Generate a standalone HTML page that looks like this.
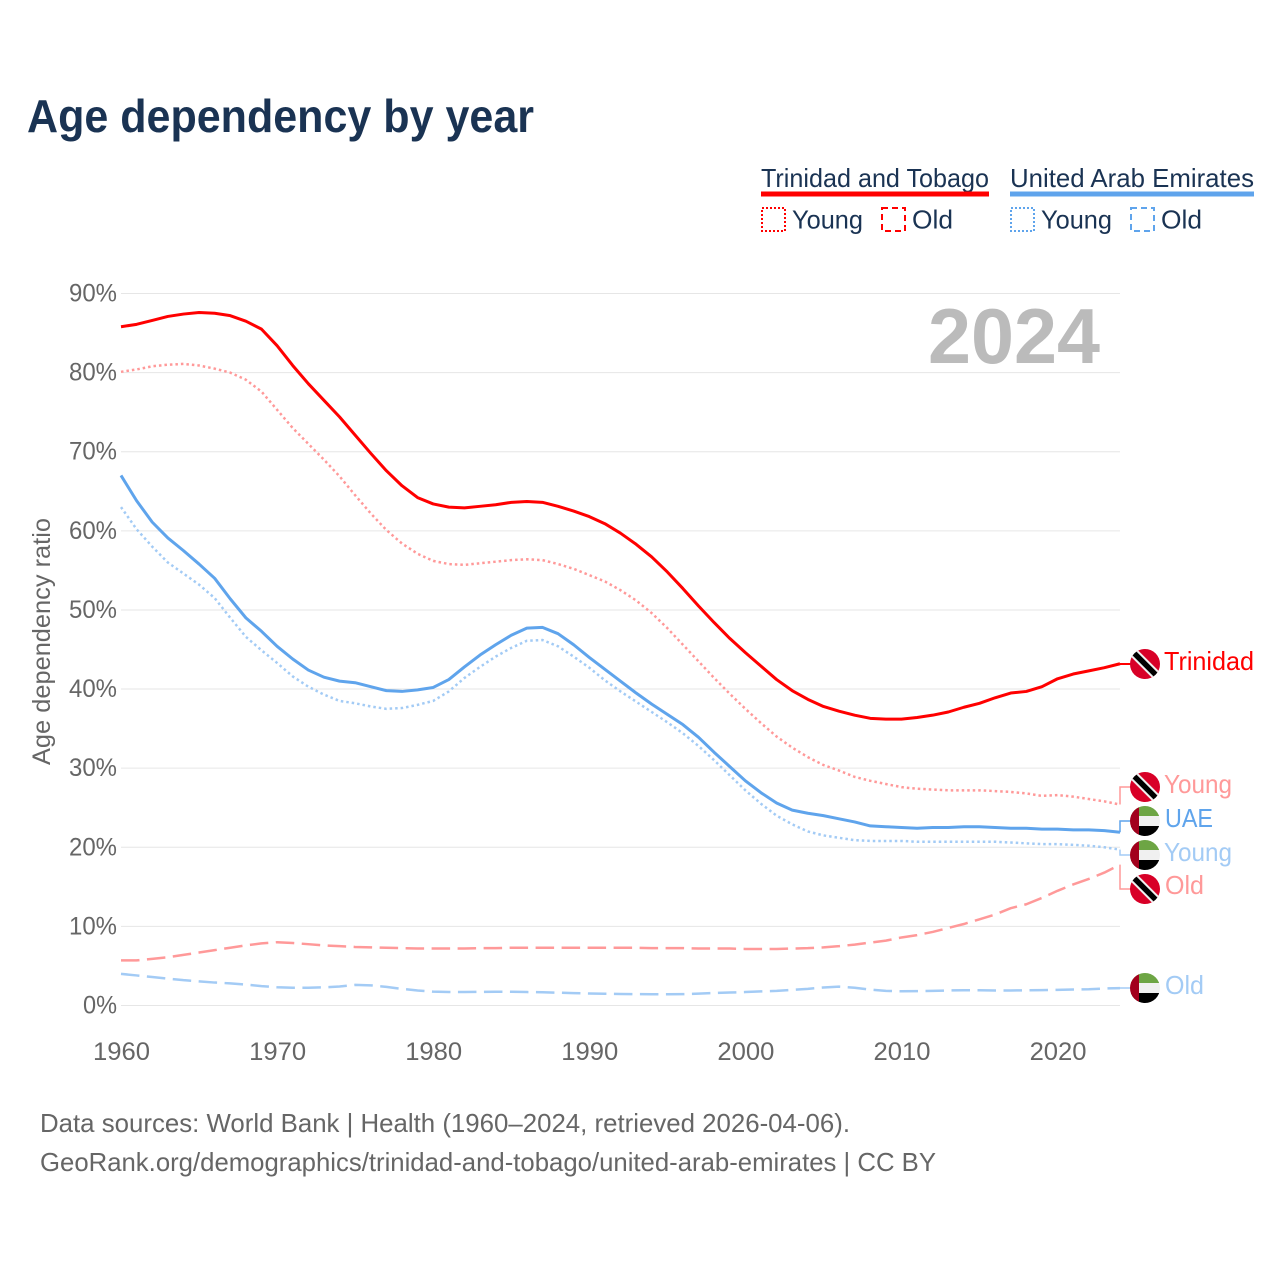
<!DOCTYPE html>
<html lang="en">
<head>
<meta charset="utf-8">
<title>Age dependency by year</title>
<style>
html,body{margin:0;padding:0;background:#fff;width:1280px;height:1280px;overflow:hidden}
svg{display:block}
text{font-family:"Liberation Sans",sans-serif}
</style>
</head>
<body>
<svg id="chart" xmlns="http://www.w3.org/2000/svg" width="1280" height="1280" viewBox="0 0 1280 1280">
  <defs>
    <clipPath id="flag-clip"><circle cx="0" cy="0" r="15"/></clipPath>
    <g id="flag-tt">
      <g clip-path="url(#flag-clip)">
        <rect x="-16" y="-16" width="32" height="32" fill="#d80027"/>
        <line x1="-16" y1="-16" x2="16" y2="16" stroke="#f0f0f0" stroke-width="9.5"/>
        <line x1="-16" y1="-16" x2="16" y2="16" stroke="#000" stroke-width="5.5"/>
      </g>
    </g>
    <g id="flag-uae">
      <g clip-path="url(#flag-clip)">
        <rect x="-16" y="-16" width="32" height="11" fill="#6da544"/>
        <rect x="-16" y="-5" width="32" height="10" fill="#f0f0f0"/>
        <rect x="-16" y="5" width="32" height="11" fill="#000"/>
        <rect x="-16" y="-16" width="10" height="32" fill="#a2001d"/>
      </g>
    </g>
  </defs>

  <text x="27" y="132" font-size="46" font-weight="700" fill="#1a3353" textLength="507" lengthAdjust="spacingAndGlyphs">Age dependency by year</text>

  <g>
    <text x="761" y="187" font-size="26" fill="#1a3353" textLength="228" lengthAdjust="spacingAndGlyphs">Trinidad and Tobago</text>
    <rect x="761" y="191.5" width="228" height="5" fill="#ff0000"/>
    <rect x="762" y="208" width="23" height="23" fill="none" stroke="#ff0000" stroke-width="2" stroke-dasharray="2 2"/>
    <text x="792" y="228.5" font-size="26" fill="#1a3353" textLength="71" lengthAdjust="spacingAndGlyphs">Young</text>
    <rect x="882" y="208" width="23" height="23" fill="none" stroke="#ff0000" stroke-width="2" stroke-dasharray="6 4"/>
    <text x="912" y="228.5" font-size="26" fill="#1a3353" textLength="41" lengthAdjust="spacingAndGlyphs">Old</text>

    <text x="1010" y="187" font-size="26" fill="#1a3353" textLength="244" lengthAdjust="spacingAndGlyphs">United Arab Emirates</text>
    <rect x="1010" y="191.5" width="244" height="5" fill="#5fa4ec"/>
    <rect x="1011" y="208" width="23" height="23" fill="none" stroke="#5fa4ec" stroke-width="2" stroke-dasharray="2 2"/>
    <text x="1041" y="228.5" font-size="26" fill="#1a3353" textLength="71" lengthAdjust="spacingAndGlyphs">Young</text>
    <rect x="1131" y="208" width="23" height="23" fill="none" stroke="#5fa4ec" stroke-width="2" stroke-dasharray="6 4"/>
    <text x="1161" y="228.5" font-size="26" fill="#1a3353" textLength="41" lengthAdjust="spacingAndGlyphs">Old</text>
  </g>

  <g id="grid"></g>
  <g id="yticks"></g>
  <g id="xticks"></g>

  <text transform="translate(50,765) rotate(-90)" font-size="25" fill="#666666" textLength="247" lengthAdjust="spacingAndGlyphs">Age dependency ratio</text>
  <text x="928" y="363" font-size="78" font-weight="700" fill="#bbbbbb" textLength="172" lengthAdjust="spacingAndGlyphs">2024</text>

  <g id="connectors"></g>
  <g id="series"></g>

  <g>
    <use href="#flag-tt" x="1145" y="664"/>
    <text x="1164" y="670" font-size="26" fill="#ff0000" textLength="90" lengthAdjust="spacingAndGlyphs">Trinidad</text>
    <use href="#flag-tt" x="1145" y="787"/>
    <text x="1164" y="793" font-size="26" fill="#ff9999" textLength="68" lengthAdjust="spacingAndGlyphs">Young</text>
    <use href="#flag-uae" x="1145" y="821"/>
    <text x="1165" y="827" font-size="26" fill="#5fa4ec" textLength="48" lengthAdjust="spacingAndGlyphs">UAE</text>
    <use href="#flag-uae" x="1145" y="855"/>
    <text x="1164" y="861" font-size="26" fill="#a3cbf5" textLength="68" lengthAdjust="spacingAndGlyphs">Young</text>
    <use href="#flag-tt" x="1145" y="889"/>
    <text x="1165" y="894" font-size="26" fill="#ff9999" textLength="39" lengthAdjust="spacingAndGlyphs">Old</text>
    <use href="#flag-uae" x="1145" y="988"/>
    <text x="1165" y="994" font-size="26" fill="#a3cbf5" textLength="39" lengthAdjust="spacingAndGlyphs">Old</text>
  </g>

  <text x="40" y="1132" font-size="26" fill="#666666" textLength="810" lengthAdjust="spacingAndGlyphs">Data sources: World Bank | Health (1960–2024, retrieved 2026-04-06).</text>
  <text x="40" y="1171" font-size="26" fill="#666666" textLength="896" lengthAdjust="spacingAndGlyphs">GeoRank.org/demographics/trinidad-and-tobago/united-arab-emirates | CC BY</text>
</svg>

<script>
const firstYear = 1960;
const lastYear = 2024;
const yTickValues = [0, 10, 20, 30, 40, 50, 60, 70, 80, 90];
const yTickLabels = ['0%', '10%', '20%', '30%', '40%', '50%', '60%', '70%', '80%', '90%'];
const xTickValues = [1960, 1970, 1980, 1990, 2000, 2010, 2020];
const xTickLabels = ['1960', '1970', '1980', '1990', '2000', '2010', '2020'];

const ttTotal = [
  85.8, 86.1, 86.6, 87.1, 87.4, 87.6, 87.5, 87.2, 86.5, 85.5,
  83.4, 80.9, 78.6, 76.5, 74.4, 72.1, 69.8, 67.6, 65.7, 64.2,
  63.4, 63.0, 62.9, 63.1, 63.3, 63.6, 63.7, 63.6, 63.1, 62.5,
  61.8, 60.9, 59.7, 58.3, 56.7, 54.8, 52.7, 50.5, 48.4, 46.4,
  44.6, 42.9, 41.2, 39.8, 38.7, 37.8, 37.2, 36.7, 36.3, 36.2,
  36.2, 36.4, 36.7, 37.1, 37.7, 38.2, 38.9, 39.5, 39.7, 40.3,
  41.3, 41.9, 42.3, 42.7, 43.2
];
const ttYoung = [
  80.1, 80.4, 80.8, 81.0, 81.1, 80.9, 80.5, 80.0, 79.1, 77.6,
  75.3, 73.0, 71.0, 69.0, 66.9, 64.5, 62.2, 60.1, 58.4, 57.1,
  56.2, 55.8, 55.7, 55.9, 56.1, 56.3, 56.4, 56.3, 55.8, 55.2,
  54.4, 53.6, 52.5, 51.2, 49.6, 47.7, 45.6, 43.5, 41.4, 39.4,
  37.5, 35.7, 34.0, 32.6, 31.4, 30.4, 29.7, 28.9, 28.4, 28.0,
  27.6, 27.4, 27.3, 27.2, 27.2, 27.2, 27.1, 27.0, 26.8, 26.5,
  26.6, 26.4, 26.1, 25.8, 25.4
];
const ttOld = [
  5.7, 5.7, 5.9, 6.1, 6.4, 6.7, 7.0, 7.3, 7.6, 7.85,
  8.0, 7.9, 7.75, 7.6, 7.5, 7.4, 7.35, 7.3, 7.25, 7.2,
  7.2, 7.2, 7.2, 7.25, 7.25, 7.3, 7.3, 7.3, 7.3, 7.3,
  7.3, 7.3, 7.3, 7.3, 7.25, 7.25, 7.25, 7.2, 7.2, 7.2,
  7.15, 7.15, 7.15, 7.2, 7.25, 7.35, 7.5, 7.7, 7.95, 8.2,
  8.6, 8.9, 9.3, 9.8, 10.3, 10.9, 11.5, 12.3, 12.8, 13.6,
  14.5, 15.3, 16.0, 16.8, 17.8
];
const uaeTotal = [
  67.0, 63.8, 61.1, 59.1, 57.5, 55.8, 54.0, 51.4, 49.0, 47.3,
  45.4, 43.8, 42.4, 41.5, 41.0, 40.8, 40.3, 39.8, 39.7, 39.9,
  40.2, 41.2, 42.8, 44.3, 45.6, 46.8, 47.7, 47.8, 47.0, 45.6,
  44.0, 42.5, 41.0, 39.5, 38.1, 36.8, 35.5, 33.9, 32.0, 30.2,
  28.4, 26.9, 25.6, 24.7, 24.3, 24.0, 23.6, 23.2, 22.7, 22.6,
  22.5, 22.4, 22.5, 22.5, 22.6, 22.6, 22.5, 22.4, 22.4, 22.3,
  22.3, 22.2, 22.2, 22.1, 21.9
];
const uaeYoung = [
  63.0, 60.2, 58.0, 56.0, 54.6, 53.2, 51.5, 49.0, 46.6, 44.9,
  43.3, 41.6, 40.3, 39.3, 38.5, 38.2, 37.8, 37.5, 37.6, 38.0,
  38.5, 39.7, 41.4, 42.8, 44.1, 45.2, 46.1, 46.2, 45.4, 44.1,
  42.7, 41.1, 39.7, 38.4, 37.1, 35.8, 34.4, 32.8, 31.0, 29.1,
  27.2, 25.5, 24.0, 22.9, 22.0, 21.5, 21.2, 20.9, 20.8, 20.8,
  20.8, 20.7, 20.7, 20.7, 20.7, 20.7, 20.7, 20.6, 20.5, 20.4,
  20.4, 20.3, 20.2, 20.0, 19.7
];
const uaeOld = [
  4.0, 3.8, 3.6, 3.4, 3.2, 3.05, 2.9, 2.8, 2.65, 2.45,
  2.3, 2.25, 2.25, 2.3, 2.4, 2.6, 2.55, 2.35, 2.1, 1.9,
  1.75, 1.7, 1.7, 1.72, 1.74, 1.74, 1.7, 1.68, 1.62, 1.56,
  1.52, 1.48, 1.46, 1.44, 1.42, 1.42, 1.44, 1.5, 1.58, 1.64,
  1.7, 1.78, 1.85, 1.98, 2.1, 2.28, 2.38, 2.25, 2.0, 1.85,
  1.8, 1.82, 1.85, 1.9, 1.92, 1.92, 1.9, 1.9, 1.92, 1.95,
  1.98, 2.02, 2.06, 2.15, 2.2
];

const NS = 'http://www.w3.org/2000/svg';
const plotLeft = 121, plotRight = 1120, plotBottom = 1005.5, plotTop = 293.5;

function xScale(year) {
  return plotLeft + (year - firstYear) * (plotRight - plotLeft) / (lastYear - firstYear);
}
function yScale(pct) {
  return plotBottom - pct * (plotBottom - plotTop) / 90;
}
function linePath(values) {
  return values.map(function (v, i) {
    return (i ? 'L' : 'M') + xScale(firstYear + i).toFixed(2) + ' ' + yScale(v).toFixed(2);
  }).join(' ');
}

const gridGroup = document.getElementById('grid');
const yTickGroup = document.getElementById('yticks');
const xTickGroup = document.getElementById('xticks');
const seriesGroup = document.getElementById('series');
const connectorGroup = document.getElementById('connectors');

yTickValues.forEach(function (v, i) {
  const ln = document.createElementNS(NS, 'line');
  
  
  ln.setAttribute('x1', plotLeft);
  ln.setAttribute('x2', plotRight);
  ln.setAttribute('y1', yScale(v));
  ln.setAttribute('y2', yScale(v));
  ln.setAttribute('stroke', '#e6e6e6');
  ln.setAttribute('stroke-width', '1');
  gridGroup.appendChild(ln);

  const t = document.createElementNS(NS, 'text');
  
  
  t.setAttribute('x', 117);
  t.setAttribute('y', yScale(v) + 8);
  t.setAttribute('text-anchor', 'end');
  t.setAttribute('font-size', '25');
  t.setAttribute('fill', '#666666');
  t.setAttribute('textLength', v === 0 ? 34 : 48);
  t.setAttribute('lengthAdjust', 'spacingAndGlyphs');
  t.textContent = yTickLabels[i];
  yTickGroup.appendChild(t);
});

xTickValues.forEach(function (v, i) {
  const t = document.createElementNS(NS, 'text');
  
  
  t.setAttribute('x', xScale(v) + 0.5);
  t.setAttribute('y', 1060);
  t.setAttribute('text-anchor', 'middle');
  t.setAttribute('font-size', '25');
  t.setAttribute('fill', '#666666');
  t.setAttribute('textLength', 57);
  t.setAttribute('lengthAdjust', 'spacingAndGlyphs');
  t.textContent = xTickLabels[i];
  xTickGroup.appendChild(t);
});

function addSeries(name, values, color, width, dash, labelY) {
  const c = document.createElementNS(NS, 'path');
  
  
  c.setAttribute('d', 'M' + plotRight + ' ' + yScale(values[values.length - 1]).toFixed(2) + ' V' + labelY + ' H1131');
  c.setAttribute('fill', 'none');
  c.setAttribute('stroke', color);
  c.setAttribute('stroke-width', name === 'trinidad-total' ? '2' : '1.5');
  connectorGroup.appendChild(c);

  const p = document.createElementNS(NS, 'path');
  
  
  p.setAttribute('d', linePath(values));
  p.setAttribute('fill', 'none');
  p.setAttribute('stroke', color);
  p.setAttribute('stroke-width', width);
  p.setAttribute('stroke-linejoin', 'round');
  if (dash) p.setAttribute('stroke-dasharray', dash);
  seriesGroup.appendChild(p);
}

addSeries('uae-old', uaeOld, '#a3cbf5', 2.5, '18.5 7.5', 988);
addSeries('uae-young', uaeYoung, '#a3cbf5', 2.5, '2.5 3', 855);
addSeries('uae-total', uaeTotal, '#5fa4ec', 3, '', 821);
addSeries('trinidad-old', ttOld, '#ff9999', 2.5, '18.5 7.5', 889);
addSeries('trinidad-young', ttYoung, '#ff9999', 2.5, '2.5 3', 787);
addSeries('trinidad-total', ttTotal, '#ff0000', 3, '', 664);
</script>
</body>
</html>
